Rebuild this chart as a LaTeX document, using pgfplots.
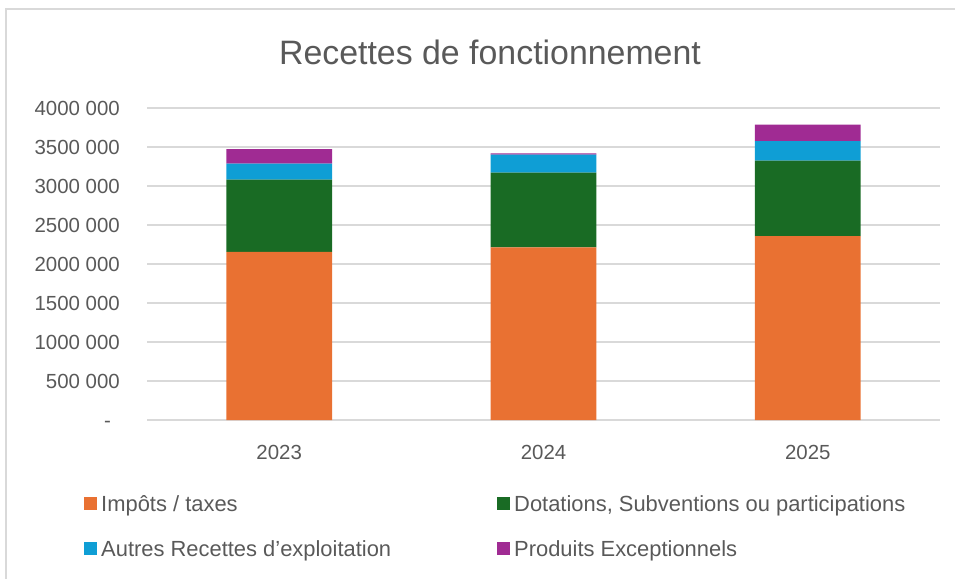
\documentclass[border=0pt]{standalone}
\usepackage{fontspec}
\setmainfont{Liberation Sans}
\usepackage{pgfplots}
\pgfplotsset{compat=1.18}
\definecolor{cImp}{HTML}{E97132}
\definecolor{cDot}{HTML}{196B24}
\definecolor{cAut}{HTML}{0F9ED5}
\definecolor{cPro}{HTML}{A02B93}
\definecolor{gridc}{HTML}{D9D9D9}
\definecolor{txt}{HTML}{595959}
\begin{document}
\begin{tikzpicture}[x=1bp,y=1bp]
\useasboundingbox (0,0) rectangle (955,-579);
\draw[color=gridc, line width=1.5bp] (6,-579) -- (6,-9) -- (955,-9);
\node[text=txt, font=\fontsize{34}{40}\selectfont] at (490,-52) {Recettes de fonctionnement};
\begin{axis}[
  at={(147bp,-420bp)}, anchor=south west,
  scale only axis, width=793bp, height=312bp,
  ybar stacked, bar width=0.4,
  xmin=-0.5, xmax=2.5, ymin=0, ymax=4000000,
  scaled y ticks=false,
  xtick={0,1,2}, xticklabels={2023,2024,2025},
  ytick={0,500000,1000000,1500000,2000000,2500000,3000000,3500000,4000000},
  yticklabels={-\hspace*{9bp},500 000,1000 000,1500 000,2000 000,2500 000,3000 000,3500 000,4000 000},
  ymajorgrids, grid style={gridc, line width=1.2bp},
  axis line style={draw=none},
  major tick length=0pt,
  tick label style={font=\fontsize{20.5}{24}\selectfont, text=txt},
  xticklabel style={anchor=center, yshift=-32bp},
  yticklabel style={anchor=east, xshift=-27bp, inner sep=0pt, text height=15bp, text depth=0bp},
  legend columns=2,
  legend cell align=left,
  legend style={at={(-0.0794,-0.2404)}, anchor=north west, draw=none, fill=none,
    inner xsep=0pt, inner ysep=0pt,
    font=\fontsize{22}{26}\selectfont, text=txt,
    nodes={inner sep=0pt, text height=16bp, text depth=5bp},
    row sep=24bp,
    /tikz/every odd column/.append style={column sep=4bp},
    /tikz/every even column/.append style={column sep=106bp}},
  legend image code/.code={\fill[#1] (0bp,-4bp) rectangle (13bp,9bp);},
  every axis plot/.append style={draw=none},
]
\addplot[fill=cImp] coordinates {(0,2154000) (1,2214000) (2,2359000)};
\addplot[fill=cDot] coordinates {(0,928000) (1,958000) (2,967000)};
\addplot[fill=cAut] coordinates {(0,205000) (1,230000) (2,251000)};
\addplot[fill=cPro] coordinates {(0,187000) (1,17000) (2,210000)};
\legend{Impôts / taxes, {Dotations, Subventions ou participations}, Autres Recettes d’exploitation, Produits Exceptionnels}
\end{axis}
\end{tikzpicture}
\end{document}
